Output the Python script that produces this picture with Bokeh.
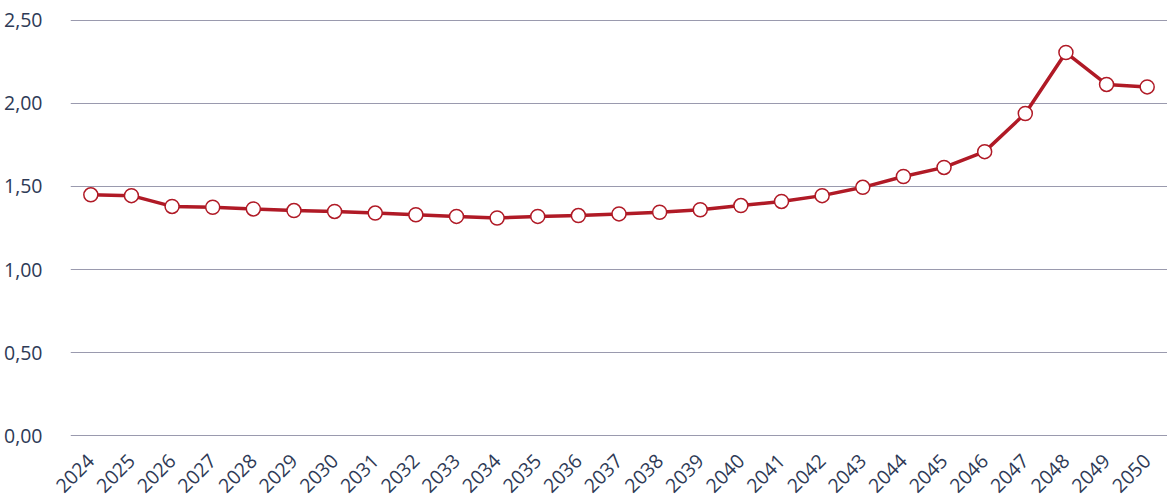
import math
from bokeh.plotting import figure
from bokeh.models import FixedTicker, ColumnDataSource, Range1d, FactorRange
from bokeh.embed import file_html
from bokeh.resources import INLINE

years = [str(y) for y in range(2024, 2051)]
values = [1.45, 1.445, 1.38, 1.375, 1.365, 1.355, 1.35, 1.34, 1.33, 1.32, 1.31,
          1.32, 1.325, 1.335, 1.345, 1.36, 1.385, 1.41, 1.445, 1.495, 1.56,
          1.615, 1.71, 1.94, 2.307, 2.115, 2.10]
y_ticks = [0.0, 0.5, 1.0, 1.5, 2.0, 2.5]
y_tick_labels = ["0,00", "0,50", "1,00", "1,50", "2,00", "2,50"]

src = ColumnDataSource(dict(year=years, value=values))

p = figure(width=1167, height=502, x_range=FactorRange(*years), y_range=Range1d(-0.012, 2.512),
           output_backend="svg", toolbar_location=None,
           min_border_left=70, min_border_right=0, min_border_top=18, min_border_bottom=65)
p.outline_line_color = None
p.xgrid.grid_line_color = None
p.ygrid.grid_line_color = "#9a9aae"
p.ygrid.grid_line_width = 1
p.yaxis.ticker = FixedTicker(ticks=y_ticks)
p.yaxis.major_label_overrides = {t: l for t, l in zip(y_ticks, y_tick_labels)}

text_color = "#2e3a56"
for ax in (p.xaxis, p.yaxis):
    ax.axis_line_color = None
    ax.major_tick_line_color = None
    ax.minor_tick_line_color = None
    ax.major_label_text_font = "Open Sans"
    ax.major_label_text_font_size = "19.5px"
    ax.major_label_text_color = text_color
p.yaxis.major_label_standoff = 22
p.xaxis.major_label_orientation = math.pi / 4
p.xaxis.major_label_standoff = 14
p.x_range.range_padding = 0

p.line("year", "value", source=src, line_color="#b01a26", line_width=3.5)
p.scatter("year", "value", source=src, size=14, fill_color="white",
          line_color="#b01a26", line_width=1.5)

open("out.html", "w").write(file_html(p, INLINE))
